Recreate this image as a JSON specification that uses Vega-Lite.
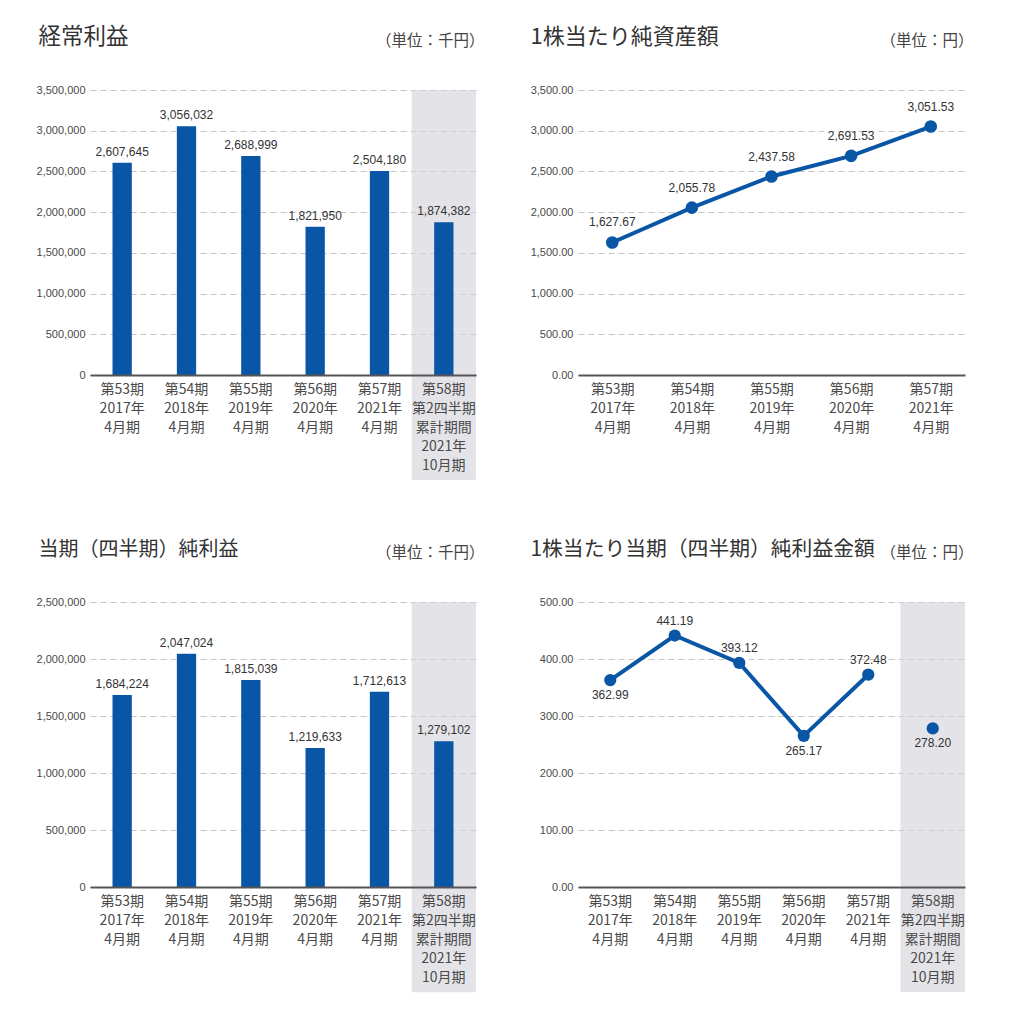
{
  "$schema": "https://vega.github.io/schema/vega-lite/v6.json",
  "background": "white",
  "padding": {"left": 36, "top": 25, "right": 5, "bottom": 5},
  "datasets": {
    "main": [
      {"period": "第53期|2017年|4月期", "ordinary": 2607645, "net": 1684224, "bps": 1627.67, "eps": 362.99},
      {"period": "第54期|2018年|4月期", "ordinary": 3056032, "net": 2047024, "bps": 2055.78, "eps": 441.19},
      {"period": "第55期|2019年|4月期", "ordinary": 2688999, "net": 1815039, "bps": 2437.58, "eps": 393.12},
      {"period": "第56期|2020年|4月期", "ordinary": 1821950, "net": 1219633, "bps": 2691.53, "eps": 265.17},
      {"period": "第57期|2021年|4月期", "ordinary": 2504180, "net": 1712613, "bps": 3051.53, "eps": 372.48},
      {"period": "第58期|第2四半期|累計期間|2021年|10月期", "ordinary": 1874382, "net": 1279102, "bps": null, "eps": 278.20}
    ]
  },
  "config": {
    "view": {"stroke": null},
    "font": "Noto Sans CJK JP",
    "axis": {"ticks": false, "domain": false, "grid": false, "labelColor": "#4a4a4a"},
    "axisY": {"labelFont": "Liberation Sans", "labelFontSize": 11, "labelPadding": 5, "gridDash": [6, 4], "gridColor": "#c4c4c4", "gridWidth": 1},
    "axisX": {"domain": true, "domainColor": "#555", "domainWidth": 2, "labelFont": "Noto Sans CJK JP", "labelFontSize": 14, "labelLineHeight": 19, "labelPadding": 7, "labelAngle": 0, "title": null, "labelOverlap": false, "labelExpr": "split(datum.value, '|')"}
  },
  "vconcat": [
    {
      "hconcat": [
        {
          "width": 386, "height": 285,
          "data": {"name": "main"},
          "layer": [
            {
              "transform": [{"filter": "indexof(datum.period, '10月期') >= 0"}],
              "mark": {"type": "rect", "color": "#d6d6dc", "opacity": 0.65},
              "encoding": {
                "x": {"field": "period", "type": "nominal", "sort": null, "scale": {"domain": ["第53期|2017年|4月期", "第54期|2018年|4月期", "第55期|2019年|4月期", "第56期|2020年|4月期", "第57期|2021年|4月期", "第58期|第2四半期|累計期間|2021年|10月期"], "paddingInner": 0, "paddingOuter": 0}, "axis": {"zindex": 2}},
                "y": {"datum": 3500000, "type": "quantitative", "scale": {"domain": [0, 3500000], "nice": false}, "axis": null},
                "y2": {"datum": -1290000}
              }
            },
            {
              "mark": {"type": "bar", "color": "#0a56a6", "width": {"band": 0.3}},
              "encoding": {
                "x": {"field": "period", "type": "nominal", "sort": null, "axis": {"zindex": 2}},
                "y": {"field": "ordinary", "type": "quantitative", "scale": {"domain": [0, 3500000], "nice": false},
                  "axis": {"orient": "left", "grid": true, "values": [0, 500000, 1000000, 1500000, 2000000, 2500000, 3000000, 3500000], "format": ",d",
                    "title": "経常利益", "titleAngle": 0, "titleAlign": "left", "titleBaseline": "alphabetic", "titleX": -52, "titleY": -47, "titleFontSize": 22.5, "titleFont": "Noto Sans CJK JP", "titleFontWeight": "normal", "titleColor": "#333"}}
              }
            },
            {
              "mark": {"type": "text", "baseline": "bottom", "dy": -4, "font": "Liberation Sans", "fontSize": 12, "color": "#333"},
              "encoding": {
                "x": {"field": "period", "type": "nominal", "sort": null},
                "y": {"field": "ordinary", "type": "quantitative",
                  "axis": {"orient": "right", "labels": false, "ticks": false, "domain": false, "grid": false,
                    "title": "（単位：千円）", "titleAngle": 0, "titleAlign": "right", "titleBaseline": "alphabetic", "titleX": 8, "titleY": -45, "titleFontSize": 15.5, "titleFont": "Noto Sans CJK JP", "titleFontWeight": "normal", "titleColor": "#444"}},
                "text": {"field": "ordinary", "type": "quantitative", "format": ",d"}
              }
            }
          ],
          "resolve": {"axis": {"y": "independent"}}
        },
        {
          "width": 387, "height": 285,
          "data": {"name": "main"},
          "transform": [{"filter": "isValid(datum.bps)"}],
          "layer": [
            {
              "mark": {"type": "line", "color": "#0a56a6", "strokeWidth": 4, "point": {"filled": true, "size": 160, "color": "#0a56a6"}},
              "encoding": {
                "x": {"field": "period", "type": "nominal", "sort": null, "scale": {"type": "point", "padding": 0.43, "domain": ["第53期|2017年|4月期", "第54期|2018年|4月期", "第55期|2019年|4月期", "第56期|2020年|4月期", "第57期|2021年|4月期"]}, "axis": {"zindex": 2}},
                "y": {"field": "bps", "type": "quantitative", "scale": {"domain": [0, 3500], "nice": false},
                  "axis": {"orient": "left", "grid": true, "values": [0, 500, 1000, 1500, 2000, 2500, 3000, 3500], "format": ",.2f",
                    "title": "1株当たり純資産額", "titleAngle": 0, "titleAlign": "left", "titleBaseline": "alphabetic", "titleX": -48, "titleY": -47, "titleFontSize": 22, "titleFont": "Noto Sans CJK JP", "titleFontWeight": "normal", "titleColor": "#333"}}
              }
            },
            {
              "mark": {"type": "text", "baseline": "bottom", "dy": -13, "font": "Liberation Sans", "fontSize": 12, "color": "#333"},
              "encoding": {
                "x": {"field": "period", "type": "nominal", "sort": null},
                "y": {"field": "bps", "type": "quantitative",
                  "axis": {"orient": "right", "labels": false, "ticks": false, "domain": false, "grid": false,
                    "title": "（単位：円）", "titleAngle": 0, "titleAlign": "right", "titleBaseline": "alphabetic", "titleX": 8, "titleY": -45, "titleFontSize": 15.5, "titleFont": "Noto Sans CJK JP", "titleFontWeight": "normal", "titleColor": "#444"}},
                "text": {"field": "bps", "type": "quantitative", "format": ",.2f"}
              }
            }
          ],
          "resolve": {"axis": {"y": "independent"}}
        }
      ],
      "spacing": 46
    },
    {
      "hconcat": [
        {
          "width": 386, "height": 285,
          "data": {"name": "main"},
          "layer": [
            {
              "transform": [{"filter": "indexof(datum.period, '10月期') >= 0"}],
              "mark": {"type": "rect", "color": "#d6d6dc", "opacity": 0.65},
              "encoding": {
                "x": {"field": "period", "type": "nominal", "sort": null, "scale": {"domain": ["第53期|2017年|4月期", "第54期|2018年|4月期", "第55期|2019年|4月期", "第56期|2020年|4月期", "第57期|2021年|4月期", "第58期|第2四半期|累計期間|2021年|10月期"], "paddingInner": 0, "paddingOuter": 0}, "axis": {"zindex": 2}},
                "y": {"datum": 2500000, "type": "quantitative", "scale": {"domain": [0, 2500000], "nice": false}, "axis": null},
                "y2": {"datum": -924000}
              }
            },
            {
              "mark": {"type": "bar", "color": "#0a56a6", "width": {"band": 0.3}},
              "encoding": {
                "x": {"field": "period", "type": "nominal", "sort": null, "axis": {"zindex": 2}},
                "y": {"field": "net", "type": "quantitative", "scale": {"domain": [0, 2500000], "nice": false},
                  "axis": {"orient": "left", "grid": true, "values": [0, 500000, 1000000, 1500000, 2000000, 2500000], "format": ",d",
                    "title": "当期（四半期）純利益", "titleAngle": 0, "titleAlign": "left", "titleBaseline": "alphabetic", "titleX": -52, "titleY": -47, "titleFontSize": 20, "titleFont": "Noto Sans CJK JP", "titleFontWeight": "normal", "titleColor": "#333"}}
              }
            },
            {
              "mark": {"type": "text", "baseline": "bottom", "dy": -4, "font": "Liberation Sans", "fontSize": 12, "color": "#333"},
              "encoding": {
                "x": {"field": "period", "type": "nominal", "sort": null},
                "y": {"field": "net", "type": "quantitative",
                  "axis": {"orient": "right", "labels": false, "ticks": false, "domain": false, "grid": false,
                    "title": "（単位：千円）", "titleAngle": 0, "titleAlign": "right", "titleBaseline": "alphabetic", "titleX": 8, "titleY": -45, "titleFontSize": 15.5, "titleFont": "Noto Sans CJK JP", "titleFontWeight": "normal", "titleColor": "#444"}},
                "text": {"field": "net", "type": "quantitative", "format": ",d"}
              }
            }
          ],
          "resolve": {"axis": {"y": "independent"}}
        },
        {
          "width": 387, "height": 285,
          "data": {"name": "main"},
          "layer": [
            {
              "transform": [{"filter": "indexof(datum.period, '10月期') >= 0"}],
              "mark": {"type": "rect", "color": "#d6d6dc", "opacity": 0.65},
              "encoding": {
                "x": {"field": "period", "type": "nominal", "sort": null, "scale": {"domain": ["第53期|2017年|4月期", "第54期|2018年|4月期", "第55期|2019年|4月期", "第56期|2020年|4月期", "第57期|2021年|4月期", "第58期|第2四半期|累計期間|2021年|10月期"], "paddingInner": 0, "paddingOuter": 0}, "axis": {"zindex": 2}},
                "y": {"datum": 500, "type": "quantitative", "scale": {"domain": [0, 500], "nice": false}, "axis": null},
                "y2": {"datum": -184}
              }
            },
            {
              "transform": [{"filter": "indexof(datum.period, '10月期') < 0"}],
              "mark": {"type": "line", "color": "#0a56a6", "strokeWidth": 4},
              "encoding": {
                "x": {"field": "period", "type": "nominal", "sort": null, "axis": {"zindex": 2}},
                "y": {"field": "eps", "type": "quantitative", "scale": {"domain": [0, 500], "nice": false},
                  "axis": {"orient": "left", "grid": true, "values": [0, 100, 200, 300, 400, 500], "format": ".2f",
                    "title": "1株当たり当期（四半期）純利益金額", "titleAngle": 0, "titleAlign": "left", "titleBaseline": "alphabetic", "titleX": -48, "titleY": -47, "titleFontSize": 20.8, "titleFont": "Noto Sans CJK JP", "titleFontWeight": "normal", "titleColor": "#333"}}
              }
            },
            {
              "mark": {"type": "point", "filled": true, "size": 150, "color": "#0a56a6", "opacity": 1},
              "encoding": {
                "x": {"field": "period", "type": "nominal", "sort": null},
                "y": {"field": "eps", "type": "quantitative", "axis": null}
              }
            },
            {
              "transform": [{"filter": "indexof(['第54期', '第55期', '第57期'], slice(datum.period, 0, 4)) >= 0"}],
              "mark": {"type": "text", "baseline": "bottom", "dy": -8, "font": "Liberation Sans", "fontSize": 12, "color": "#333"},
              "encoding": {
                "x": {"field": "period", "type": "nominal", "sort": null},
                "y": {"field": "eps", "type": "quantitative", "axis": null},
                "text": {"field": "eps", "type": "quantitative", "format": ".2f"}
              }
            },
            {
              "transform": [{"filter": "indexof(['第54期', '第55期', '第57期'], slice(datum.period, 0, 4)) < 0"}],
              "mark": {"type": "text", "baseline": "top", "dy": 10, "font": "Liberation Sans", "fontSize": 12, "color": "#333"},
              "encoding": {
                "x": {"field": "period", "type": "nominal", "sort": null},
                "y": {"field": "eps", "type": "quantitative",
                  "axis": {"orient": "right", "labels": false, "ticks": false, "domain": false, "grid": false,
                    "title": "（単位：円）", "titleAngle": 0, "titleAlign": "right", "titleBaseline": "alphabetic", "titleX": 8, "titleY": -45, "titleFontSize": 15.5, "titleFont": "Noto Sans CJK JP", "titleFontWeight": "normal", "titleColor": "#444"}},
                "text": {"field": "eps", "type": "quantitative", "format": ".2f"}
              }
            }
          ],
          "resolve": {"axis": {"y": "independent"}}
        }
      ],
      "spacing": 46
    }
  ],
  "spacing": 57
}
